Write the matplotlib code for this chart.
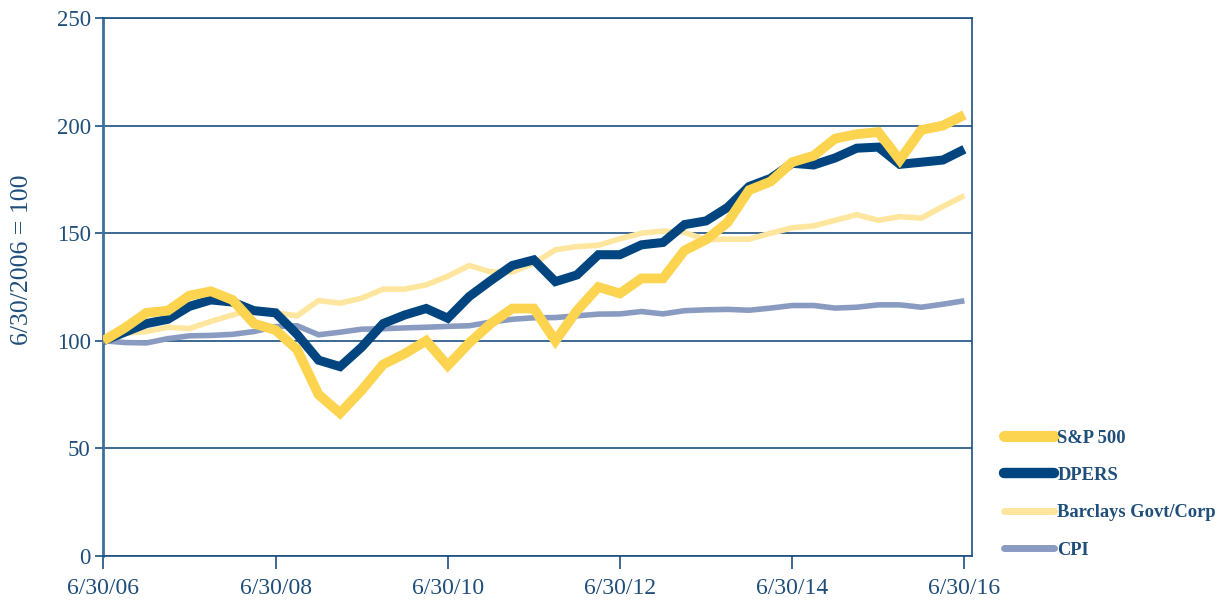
import numpy as np
import matplotlib.pyplot as plt
from matplotlib.lines import Line2D

# quarterly values, 6/30/2006 = 100
sp500 = [100, 106, 113, 114, 121, 123, 119, 108, 105, 96, 75, 66.4, 77, 89, 94, 100, 88.5,
         99, 108, 115, 115, 100, 114, 125, 122, 129, 129, 142, 147, 155, 170, 174,
         183, 186, 194, 196, 197, 184, 198, 200, 205]
dpers = [100, 104, 108, 110, 116, 119, 118, 114, 113, 103, 91, 88, 97, 108, 112, 115, 110.5,
         120.6, 128, 135, 137.6, 127.5, 130.6, 140, 140, 144.6, 145.7, 154, 155.7, 162, 171.7, 175.5,
         182.5, 181.7, 185, 189.5, 190, 182, 183, 184, 189]
barclays = [100, 103.5, 104.3, 106.3, 105.7, 109, 112, 114.7, 113, 111.6, 118.7, 117.5, 119.8, 124, 124, 126, 130,
            135, 132, 132, 136, 142.3, 143.8, 144.4, 147.4, 150, 151, 150.3, 147, 147.2, 147.2, 150,
            152.5, 153.4, 156, 158.6, 156, 157.7, 157, 162.4, 167.5]
cpi = [100, 99.2, 99, 101, 102.3, 102.5, 103, 104.3, 106.6, 107, 102.8, 104, 105.4, 105.6, 106, 106.3, 106.7,
       107, 108.7, 110, 110.7, 110.8, 111.6, 112.4, 112.5, 113.6, 112.5, 114, 114.4, 114.6, 114.2, 115.2,
       116.4, 116.4, 115.2, 115.6, 116.7, 116.7, 115.6, 117, 118.6]
xtick_labels = ['6/30/06', '6/30/08', '6/30/10', '6/30/12', '6/30/14', '6/30/16']
series_names = ['S&P 500', 'DPERS', 'Barclays Govt/Corp', 'CPI']

navy = '#1b4f82'
text_col = '#1f4e7a'
colors = ['#fdd44f', '#00457f', '#ffe69e', '#8a9bc2']
widths = [7, 6.5, 4, 4]

plt.rcParams['font.family'] = ['Liberation Serif', 'DejaVu Serif']

fig = plt.figure(figsize=(12.31, 6.03), dpi=100)
ax = fig.add_axes([103.3 / 1231, 47 / 603, (971.7 - 103.3) / 1231, (556 - 18) / 603])

q = np.arange(len(sp500))
# draw back-to-front: CPI, Barclays, DPERS, S&P
order = [3, 2, 1, 0]
data = [sp500, dpers, barclays, cpi]
for i in order:
    ax.plot(q, data[i], color=colors[i], lw=widths[i], solid_joinstyle='miter',
            solid_capstyle='butt', zorder=3 + (3 - i))

ax.set_xlim(0, 40.34)
ax.set_ylim(0, 250)
ax.set_xticks(np.arange(0, 41, 8))
ax.set_xticklabels(xtick_labels)
ax.set_yticks([0, 50, 100, 150, 200, 250])
ax.yaxis.grid(True, color=navy, lw=1.2)
ax.set_axisbelow(True)
for s in ax.spines.values():
    s.set_color(navy)
    s.set_linewidth(1.2)
ax.spines['left'].set_color('#3d6fa0')
ax.spines['left'].set_linewidth(2)
ax.tick_params(axis='y', direction='out', length=6, width=1.2, color=navy,
               labelcolor=text_col, labelsize=16.5, pad=3)
ax.tick_params(axis='x', direction='out', length=9, width=1.2, color=navy,
               labelcolor=text_col, labelsize=17, pad=7)
fig.text(22 / 1231, 1 - 260 / 603, '6/30/2006 = 100', rotation=90, ha='center', va='center',
         color=text_col, fontsize=18.5)

handles = [Line2D([], [], color=colors[i], lw=widths[i] + 1, solid_capstyle='round') for i in range(4)]
leg = fig.legend(handles, series_names, loc='upper left', bbox_to_anchor=(987 / 1231, 1 - 413 / 603),
                 frameon=False, handlelength=2.7, handletextpad=0.2, labelspacing=1.1,
                 prop={'family': 'Liberation Serif', 'weight': 'bold', 'size': 13.3})
for t in leg.get_texts():
    t.set_color(text_col)

fig.savefig('out.png', dpi=100)
